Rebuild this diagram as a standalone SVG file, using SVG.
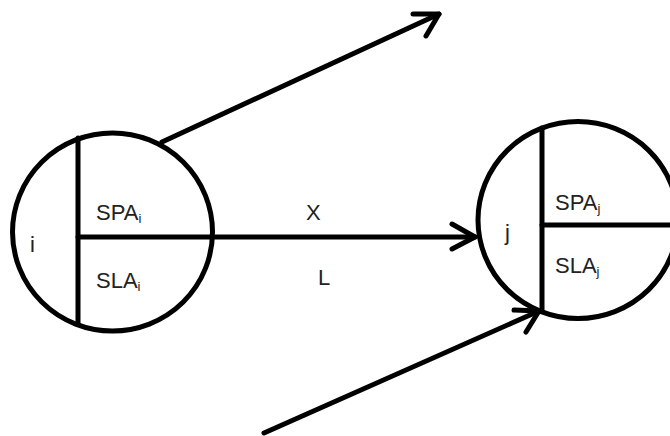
<svg xmlns="http://www.w3.org/2000/svg" width="670" height="436" viewBox="0 0 670 436">
<style>
.s{fill:none;stroke:#000;stroke-width:5;stroke-linecap:round;stroke-linejoin:round}
.t{font-family:"Liberation Sans",Arial,sans-serif;font-size:22px;fill:#222}
.sub{font-size:13px}
</style>
<rect width="670" height="436" fill="#fff"/>
<g id="node-i">
<ellipse class="s" cx="112.5" cy="232" rx="100" ry="99"/>
<line class="s" x1="78" y1="138" x2="78" y2="323"/>
<text class="t" x="30" y="252">i</text>
<text class="t" x="96" y="220">SPA<tspan class="sub" dy="3">i</tspan></text>
<text class="t" x="96" y="288">SLA<tspan class="sub" dy="3">i</tspan></text>
</g>
<g id="node-j">
<ellipse class="s" cx="578" cy="220" rx="100" ry="98.5"/>
<line class="s" x1="542" y1="128" x2="542" y2="311"/>
<line class="s" x1="542" y1="225" x2="672" y2="225"/>
<text class="t" x="505" y="240">j</text>
<text class="t" x="555" y="210">SPA<tspan class="sub" dy="3">j</tspan></text>
<text class="t" x="555" y="273">SLA<tspan class="sub" dy="3">j</tspan></text>
</g>
<g id="connectors">
<line class="s" x1="78" y1="237" x2="475" y2="237"/>
<polyline class="s" points="452,224 475,237 452,249"/>
<text class="t" x="306" y="220">X</text>
<text class="t" x="318" y="285">L</text>
<line class="s" x1="162" y1="142" x2="439" y2="14"/>
<polyline class="s" points="413,14 439,14 426,36"/>
<line class="s" x1="264" y1="433" x2="539" y2="311"/>
<polyline class="s" points="514,310 539,311 526,332"/>
</g>
</svg>
